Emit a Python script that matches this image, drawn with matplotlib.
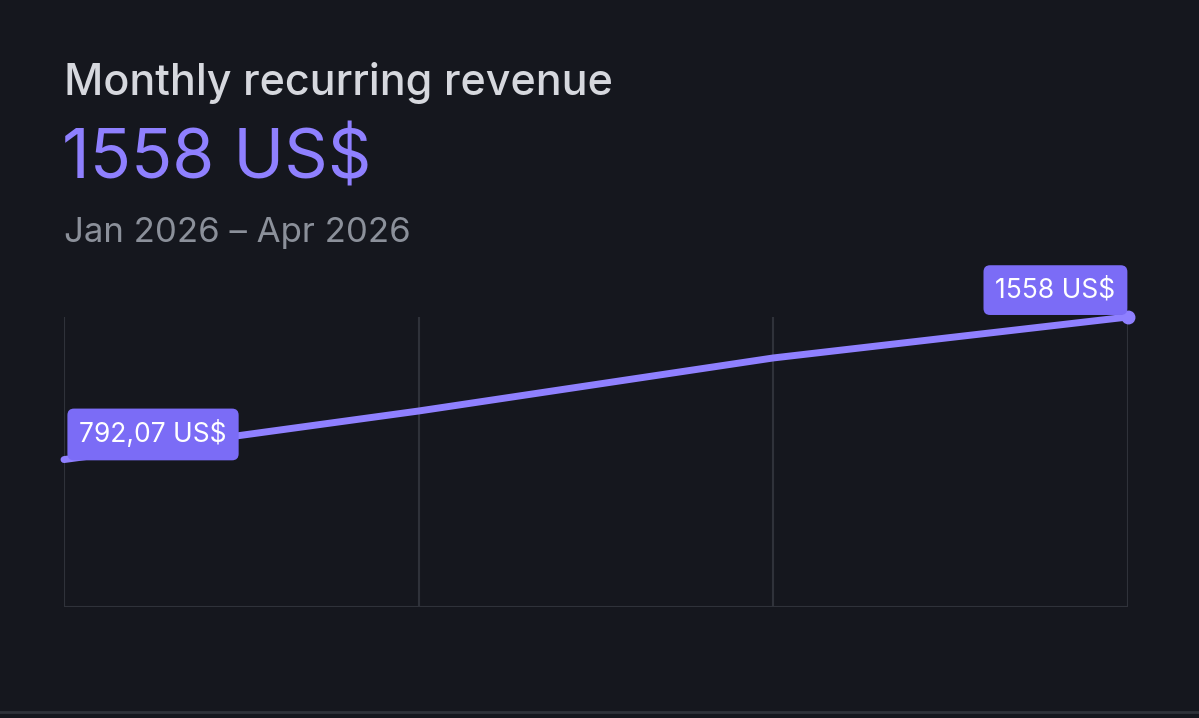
import matplotlib
matplotlib.use("Agg")
import matplotlib.pyplot as plt

months = ["Jan 2026", "Feb 2026", "Mar 2026", "Apr 2026"]
values = [792.07, 1053, 1338, 1558]
labels = ["792,07 US$", None, None, "1558 US$"]

BG = "#15171e"
LINE = "#8f80ff"
BOX = "#7b6cf6"
plt.rcParams['font.family'] = ['Inter', 'DejaVu Sans']

fig = plt.figure(figsize=(11.99, 7.18), dpi=100, facecolor=BG)
ax = fig.add_axes([64/1199, 1-607/718, 1064/1199, 290/718], facecolor=BG)
x = list(range(len(values)))
ax.plot(x, values, color=LINE, lw=5, solid_capstyle='round', zorder=3, clip_on=False)
ax.set_xlim(0, 3)
ax.set_ylim(0, max(values))
for xi in x:
    ax.axvline(xi, color="#2f323a", lw=1.5, zorder=1)
ax.axhline(0, color="#2f323a", lw=1.5, zorder=1)
for s in ax.spines.values():
    s.set_visible(False)
ax.set_xticks([]); ax.set_yticks([])

bb = dict(boxstyle="round,pad=0.45,rounding_size=0.25", fc=BOX, ec="none")
ax.annotate(labels[0], (x[0], values[0]), xytext=(11, 8), textcoords="offset points",
            ha="left", va="bottom", color="white", fontsize=19, bbox=bb, zorder=5)
ax.annotate(labels[3], (x[3], values[3]), xytext=(-9, 10), textcoords="offset points",
            ha="right", va="bottom", color="white", fontsize=19, bbox=bb, zorder=5)
ax.plot([x[3]], [values[3]], 'o', color=LINE, ms=9, clip_on=False, zorder=4)

fig.text(64/1199, 1-83/718, "Monthly recurring revenue", color="#d6d8de", fontsize=31,
         fontweight="medium", va="center", ha="left")
fig.text(62/1199, 1-160/718, "1558 US$", color="#8f80ff", fontsize=49, va="center", ha="left")
fig.text(64/1199, 1-233/718, "Jan 2026 – Apr 2026", color="#8b909a", fontsize=25,
         va="center", ha="left")
fig.add_artist(plt.Line2D([0, 1], [1-712/718]*2, color="#2f323a", lw=2))
fig.savefig("out.png", dpi=100, facecolor=BG)
